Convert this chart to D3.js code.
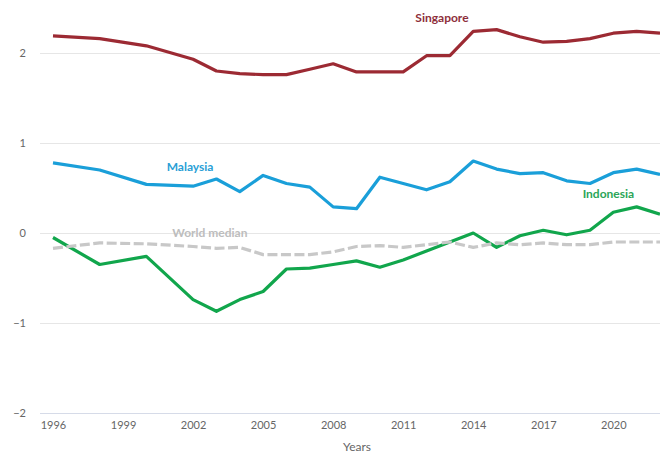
<!DOCTYPE html>
<html><head><meta charset="utf-8">
<script src="https://cdn.jsdelivr.net/npm/d3@7/dist/d3.min.js"></script>
<style>
html,body{margin:0;padding:0;background:#fff;}
svg{display:block;}
</style></head>
<body>
<svg id="chart" width="660" height="453"></svg>
<script>
const years = [1996,1998,2000,2002,2003,2004,2005,2006,2007,2008,2009,2010,2011,2012,2013,2014,2015,2016,2017,2018,2019,2020,2021,2022];
const singapore = [2.19,2.16,2.08,1.93,1.80,1.77,1.76,1.76,1.82,1.88,1.79,1.79,1.79,1.97,1.97,2.24,2.26,2.18,2.12,2.13,2.16,2.22,2.24,2.22];
const malaysia  = [0.78,0.70,0.54,0.52,0.60,0.46,0.64,0.55,0.51,0.29,0.27,0.62,0.55,0.48,0.57,0.80,0.71,0.66,0.67,0.58,0.55,0.67,0.71,0.65];
const indonesia = [-0.05,-0.35,-0.26,-0.74,-0.87,-0.74,-0.65,-0.40,-0.39,-0.35,-0.31,-0.38,-0.30,-0.20,-0.10,0.00,-0.16,-0.03,0.03,-0.02,0.03,0.23,0.29,0.21];
const worldMedian = [-0.17,-0.11,-0.12,-0.15,-0.17,-0.16,-0.24,-0.24,-0.24,-0.21,-0.15,-0.14,-0.16,-0.13,-0.10,-0.16,-0.11,-0.13,-0.11,-0.13,-0.13,-0.10,-0.10,-0.10];
const xTicks = [1996,1999,2002,2005,2008,2011,2014,2017,2020];
const yTicks = [-2,-1,0,1,2];
const seriesNames = ["Singapore","Malaysia","Indonesia","World median"];

const svg = d3.select("#chart");
const x = d3.scaleLinear().domain([1996,2022]).range([53,660]);
const y = d3.scaleLinear().domain([-2,2]).range([413,53]);
const fontFam = "Lato, 'Open Sans', sans-serif";

// gridlines
svg.append("g").selectAll("line").data(yTicks).join("line")
  .attr("x1",40).attr("x2",660)
  .attr("y1",d=>y(d)).attr("y2",d=>y(d))
  .attr("stroke",d=>d===-2?"#d6dbe8":"#e6e6e6").attr("stroke-width",1)
  .attr("shape-rendering","crispEdges");

// y axis labels
const yAxis = d3.axisLeft(y).tickValues(yTicks).tickSize(0).tickPadding(0).tickFormat(d3.format("d"));
const gy = svg.append("g").attr("transform","translate(26,0)").call(yAxis);
gy.select(".domain").remove();
gy.selectAll("text").attr("fill","#666").style("font-family",fontFam).style("font-size","11px");

// x axis labels
const xAxis = d3.axisBottom(x).tickValues(xTicks).tickSize(0).tickPadding(0).tickFormat(d3.format("d"));
const gx = svg.append("g").attr("transform","translate(0,421)").call(xAxis);
gx.select(".domain").remove();
gx.selectAll("text").attr("fill","#666").style("font-family",fontFam).style("font-size","11px");

svg.append("text").attr("x",357).attr("y",451).attr("text-anchor","middle")
  .attr("fill","#666").style("font-family",fontFam).style("font-size","12px").text("Years");

const line = d3.line().x((d,i)=>x(years[i])).y(d=>y(d));

const series = [
  {name:seriesNames[0], data:singapore, color:"#9c2a33", dash:null},
  {name:seriesNames[1], data:malaysia, color:"#1a9fd9", dash:null},
  {name:seriesNames[2], data:indonesia, color:"#11a64c", dash:null},
  {name:seriesNames[3], data:worldMedian, color:"#c8c8c8", dash:"10,3.5"}
];

svg.append("g").selectAll("path").data(series).join("path")
  .attr("d",d=>line(d.data))
  .attr("fill","none")
  .attr("stroke",d=>d.color)
  .attr("stroke-width",3.2)
  .attr("stroke-linejoin","round")
  .attr("stroke-dasharray",d=>d.dash);

// series labels
const labels = [
  {text:seriesNames[0], year:2012.66, val:2.345, color:"#8e2f3b"},
  {text:seriesNames[1], year:2001.87, val:0.69, color:"#2a9fd6"},
  {text:seriesNames[2], year:2019.79, val:0.39, color:"#2ba557"},
  {text:seriesNames[3], year:2002.72, val:-0.045, color:"#bdbdbd"}
];
svg.append("g").selectAll("text").data(labels).join("text")
  .attr("x",d=>x(d.year)).attr("y",d=>y(d.val))
  .attr("text-anchor","middle")
  .attr("fill",d=>d.color)
  .style("font-family",fontFam).style("font-size","12px").style("font-weight","bold")
  .text(d=>d.text);
</script>
</body></html>
